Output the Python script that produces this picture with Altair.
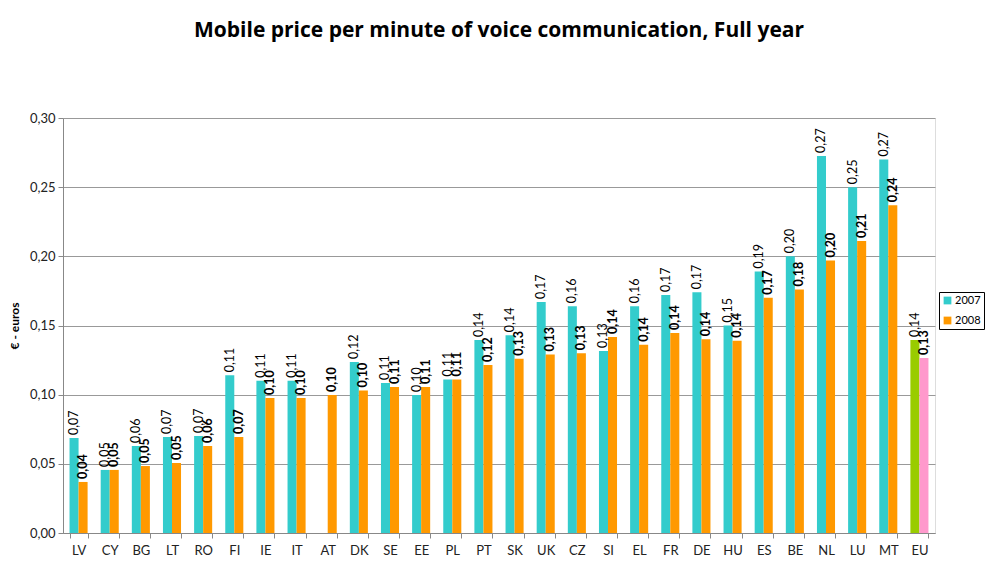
import altair as alt
import pandas as pd

countries = ["LV", "CY", "BG", "LT", "RO", "FI", "IE", "IT", "AT", "DK", "SE", "EE", "PL", "PT",
             "SK", "UK", "CZ", "SI", "EL", "FR", "DE", "HU", "ES", "BE", "NL", "LU", "MT", "EU"]
v2007 = [0.0687, 0.0456, 0.0629, 0.0694, 0.0701, 0.1140, 0.1100, 0.1100, None, 0.1236, 0.1085,
         0.0998, 0.1110, 0.1395, 0.1430, 0.1670, 0.1640, 0.1316, 0.1640, 0.1720, 0.1740, 0.1500,
         0.1890, 0.2000, 0.2726, 0.2500, 0.2700, 0.1395]
v2008 = [0.0369, 0.0456, 0.0484, 0.0506, 0.0629, 0.0694, 0.0976, 0.0976, 0.0998, 0.1030, 0.1056,
         0.1056, 0.1110, 0.1215, 0.1260, 0.1290, 0.1300, 0.1417, 0.1360, 0.1446, 0.1400, 0.1390,
         0.1700, 0.1760, 0.1970, 0.2110, 0.2370, 0.1265]
years = ["2007", "2008"]
color_keys = ["2007", "2008", "EU2007", "EU2008"]
color_range = ["#33CCCC", "#FF9900", "#99CC00", "#FF99CC"]

rows = []
for c, a, b in zip(countries, v2007, v2008):
    for y, v in zip(years, (a, b)):
        if v is None:
            continue
        key = ("EU" + y) if c == "EU" else y
        rows.append({"country": c, "year": y, "value": v, "ckey": key})
df = pd.DataFrame(rows)

FONT = "Lato"

x_enc = alt.X("country:N", sort=countries, title=None,
              scale=alt.Scale(paddingInner=0.42, paddingOuter=0.21),
              axis=alt.Axis(labelAngle=0, labelFontSize=13, labelColor="#222", labelPadding=6,
                            tickBand="extent", tickColor="#888", tickSize=5,
                            domainColor="#888", grid=False, labelFont=FONT))
xo_enc = alt.XOffset("year:N", sort=years)
y_enc = alt.Y("value:Q", title="€ - euros",
              scale=alt.Scale(domain=[0, 0.30], nice=False),
              axis=alt.Axis(values=[0, 0.05, 0.10, 0.15, 0.20, 0.25, 0.30],
                            labelExpr="replace(format(datum.value, '.2f'), '.', ',')",
                            labelFontSize=13, labelColor="#222", labelFont=FONT,
                            titleFont=FONT, titleFontSize=12, titleFontWeight="bold",
                            titleColor="#000", titlePadding=8,
                            gridColor="#999", gridWidth=1, domainColor="#888",
                            tickColor="#888", tickSize=5, labelPadding=3))

base = alt.Chart(df)

bars = base.mark_bar().encode(
    x=x_enc, xOffset=xo_enc, y=y_enc,
    color=alt.Color("ckey:N", scale=alt.Scale(domain=color_keys, range=color_range),
                    legend=alt.Legend(values=["2007", "2008"], title=None, orient="none",
                                      legendX=876, legendY=174, strokeColor="#000",
                                      padding=3, symbolType="square", symbolSize=60,
                                      symbolStrokeWidth=0, labelFontSize=11, labelOffset=2,
                                      labelFont=FONT, labelColor="#000", rowPadding=8)),
)

label_expr = "replace(format(datum.value, '.2f'), '.', ',')"

text07 = base.transform_filter("datum.year == '2007'").transform_calculate(
    lbl=label_expr
).mark_text(angle=270, align="left", baseline="middle", dx=3, fontSize=12.5,
            font=FONT, color="#000").encode(
    x=x_enc, xOffset=xo_enc, y=y_enc, text="lbl:N")

text08 = base.transform_filter("datum.year == '2008'").transform_calculate(
    lbl=label_expr
).mark_text(angle=270, align="left", baseline="middle", dx=3, fontSize=12.5,
            font=FONT, fontWeight="bold", color="#000").encode(
    x=x_enc, xOffset=xo_enc, y=y_enc, text="lbl:N")

chart = alt.layer(bars, text07, text08).properties(
    width=872, height=415,
    title=alt.Title("Mobile price per minute of voice communication, Full year",
                    fontSize=21, font="Open Sans", fontWeight="bold", color="#000",
                    anchor="middle", offset=71),
    autosize=alt.AutoSizeParams(type="none"),
    padding={"left": 55, "top": 110, "right": 51, "bottom": 37},
).configure_view(stroke=None).configure(background="white")

chart.save("out.html", embed_options={"renderer": "svg", "actions": False})
